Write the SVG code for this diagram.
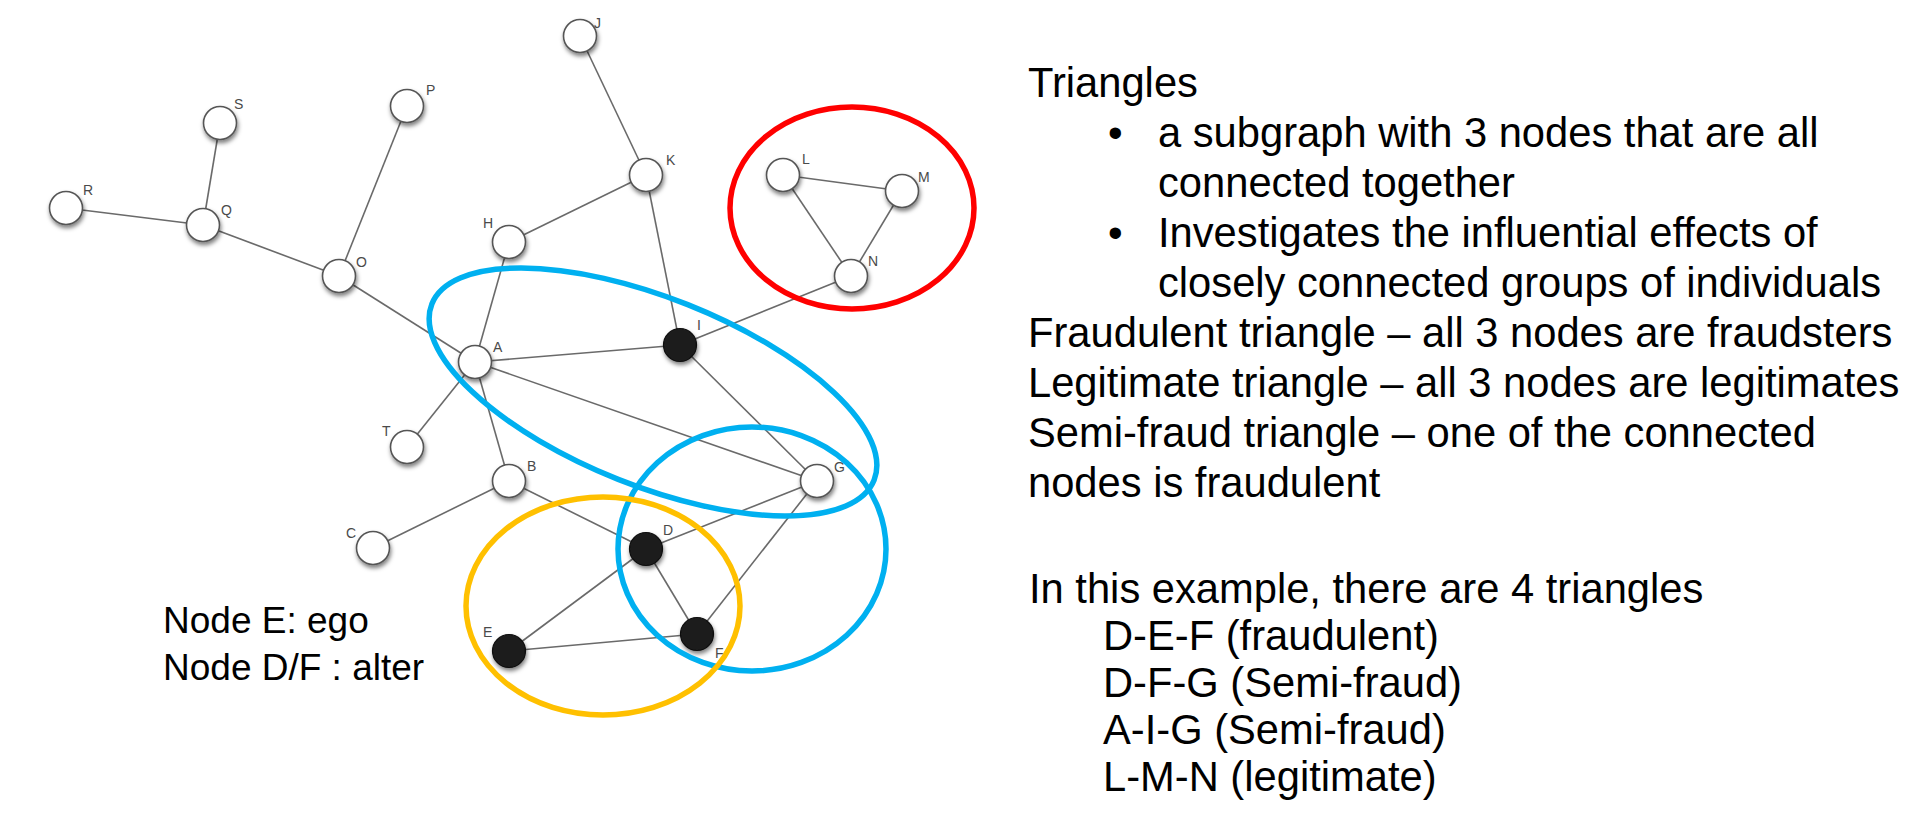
<svg xmlns="http://www.w3.org/2000/svg" width="1929" height="833" viewBox="0 0 1929 833">
<defs>
<filter id="sh" x="-60%" y="-60%" width="220%" height="220%">
<feDropShadow dx="1" dy="3" stdDeviation="2.2" flood-color="#000" flood-opacity="0.5"/>
</filter>
<style>
.e{stroke:#6a6a6a;stroke-width:1.6;fill:none}
.wn{fill:#ffffff;stroke:#555;stroke-width:1.6;filter:url(#sh)}
.bn{fill:#1c1c1c;stroke:#111;stroke-width:1.2;filter:url(#sh)}
.lbl{font-family:"Liberation Sans",Arial,sans-serif;font-size:14px;fill:#4a4a4a}
.ring{fill:none;stroke-width:5.5}
.t{font-family:"Liberation Sans",Arial,sans-serif;font-size:41.7px;fill:#000}
.t2{font-family:"Liberation Sans",Arial,sans-serif;font-size:37px;fill:#000}
</style>
</defs>
<rect width="1929" height="833" fill="#fff"/>
<g id="connectors">
<line class="e" x1="66" y1="208" x2="203" y2="225"/>
<line class="e" x1="220" y1="123" x2="203" y2="225"/>
<line class="e" x1="203" y1="225" x2="339" y2="276"/>
<line class="e" x1="407" y1="106" x2="339" y2="276"/>
<line class="e" x1="339" y1="276" x2="475" y2="362"/>
<line class="e" x1="580" y1="36" x2="646" y2="175"/>
<line class="e" x1="646" y1="175" x2="509" y2="242"/>
<line class="e" x1="646" y1="175" x2="680" y2="345"/>
<line class="e" x1="509" y1="242" x2="475" y2="362"/>
<line class="e" x1="475" y1="362" x2="680" y2="345"/>
<line class="e" x1="475" y1="362" x2="817" y2="481"/>
<line class="e" x1="475" y1="362" x2="407" y2="447"/>
<line class="e" x1="475" y1="362" x2="509" y2="481"/>
<line class="e" x1="680" y1="345" x2="851" y2="276"/>
<line class="e" x1="680" y1="345" x2="817" y2="481"/>
<line class="e" x1="783" y1="175" x2="902" y2="191"/>
<line class="e" x1="783" y1="175" x2="851" y2="276"/>
<line class="e" x1="902" y1="191" x2="851" y2="276"/>
<line class="e" x1="509" y1="481" x2="373" y2="548"/>
<line class="e" x1="509" y1="481" x2="646" y2="549"/>
<line class="e" x1="646" y1="549" x2="817" y2="481"/>
<line class="e" x1="646" y1="549" x2="509" y2="651"/>
<line class="e" x1="646" y1="549" x2="697" y2="634"/>
<line class="e" x1="509" y1="651" x2="697" y2="634"/>
<line class="e" x1="697" y1="634" x2="817" y2="481"/>
</g>
<g id="node-R"><circle class="wn" cx="66" cy="208" r="16.5"/><text class="lbl" x="83" y="195">R</text></g>
<g id="node-S"><circle class="wn" cx="220" cy="123" r="16.5"/><text class="lbl" x="234" y="109">S</text></g>
<g id="node-Q"><circle class="wn" cx="203" cy="225" r="16.5"/><text class="lbl" x="221" y="215">Q</text></g>
<g id="node-P"><circle class="wn" cx="407" cy="106" r="16.5"/><text class="lbl" x="426" y="95">P</text></g>
<g id="node-O"><circle class="wn" cx="339" cy="276" r="16.5"/><text class="lbl" x="356" y="267">O</text></g>
<g id="node-J"><circle class="wn" cx="580" cy="36" r="16.5"/><text class="lbl" x="594" y="28">J</text></g>
<g id="node-K"><circle class="wn" cx="646" cy="175" r="16.5"/><text class="lbl" x="666" y="165">K</text></g>
<g id="node-H"><circle class="wn" cx="509" cy="242" r="16.5"/><text class="lbl" x="483" y="228">H</text></g>
<g id="node-L"><circle class="wn" cx="783" cy="175" r="16.5"/><text class="lbl" x="802" y="164">L</text></g>
<g id="node-M"><circle class="wn" cx="902" cy="191" r="16.5"/><text class="lbl" x="918" y="182">M</text></g>
<g id="node-N"><circle class="wn" cx="851" cy="276" r="16.5"/><text class="lbl" x="868" y="266">N</text></g>
<g id="node-A"><circle class="wn" cx="475" cy="362" r="16.5"/><text class="lbl" x="493" y="352">A</text></g>
<g id="node-I"><circle class="bn" cx="680" cy="345" r="16.5"/><text class="lbl" x="697" y="330">I</text></g>
<g id="node-T"><circle class="wn" cx="407" cy="447" r="16.5"/><text class="lbl" x="382" y="436">T</text></g>
<g id="node-B"><circle class="wn" cx="509" cy="481" r="16.5"/><text class="lbl" x="527" y="471">B</text></g>
<g id="node-G"><circle class="wn" cx="817" cy="481" r="16.5"/><text class="lbl" x="834" y="472">G</text></g>
<g id="node-C"><circle class="wn" cx="373" cy="548" r="16.5"/><text class="lbl" x="346" y="538">C</text></g>
<g id="node-D"><circle class="bn" cx="646" cy="549" r="16.5"/><text class="lbl" x="663" y="535">D</text></g>
<g id="node-E"><circle class="bn" cx="509" cy="651" r="16.5"/><text class="lbl" x="483" y="637">E</text></g>
<g id="node-F"><circle class="bn" cx="697" cy="634" r="16.5"/><text class="lbl" x="715" y="658">F</text></g>
<g id="groups">
<ellipse class="ring" stroke="#FF0000" cx="852" cy="208" rx="122" ry="101"/>
<ellipse class="ring" stroke="#00B0F0" cx="0" cy="0" rx="238" ry="94" transform="translate(653 392) rotate(21.7)"/>
<ellipse class="ring" stroke="#00B0F0" cx="752" cy="549" rx="134" ry="122"/>
<ellipse class="ring" stroke="#FFC000" cx="603" cy="606" rx="137" ry="109"/>
</g>
<g id="legend">
<text class="t2" x="163" y="633">Node E: ego</text>
<text class="t2" x="163" y="680">Node D/F : alter</text>
</g>
<g id="description">
<text class="t" x="1028" y="97">Triangles</text>
<text class="t" x="1108" y="147">•</text>
<text class="t" x="1158" y="147">a subgraph with 3 nodes that are all</text>
<text class="t" x="1158" y="197">connected together</text>
<text class="t" x="1108" y="247">•</text>
<text class="t" x="1158" y="247">Investigates the influential effects of</text>
<text class="t" x="1158" y="297">closely connected groups of individuals</text>
<text class="t" x="1028" y="347">Fraudulent triangle – all 3 nodes are fraudsters</text>
<text class="t" x="1028" y="397">Legitimate triangle – all 3 nodes are legitimates</text>
<text class="t" x="1028" y="447">Semi-fraud triangle – one of the connected</text>
<text class="t" x="1028" y="497">nodes is fraudulent</text>
<text class="t" x="1029" y="603">In this example, there are 4 triangles</text>
<text class="t" x="1103" y="650">D-E-F (fraudulent)</text>
<text class="t" x="1103" y="697">D-F-G (Semi-fraud)</text>
<text class="t" x="1103" y="744">A-I-G (Semi-fraud)</text>
<text class="t" x="1103" y="791">L-M-N (legitimate)</text>
</g>
</svg>
